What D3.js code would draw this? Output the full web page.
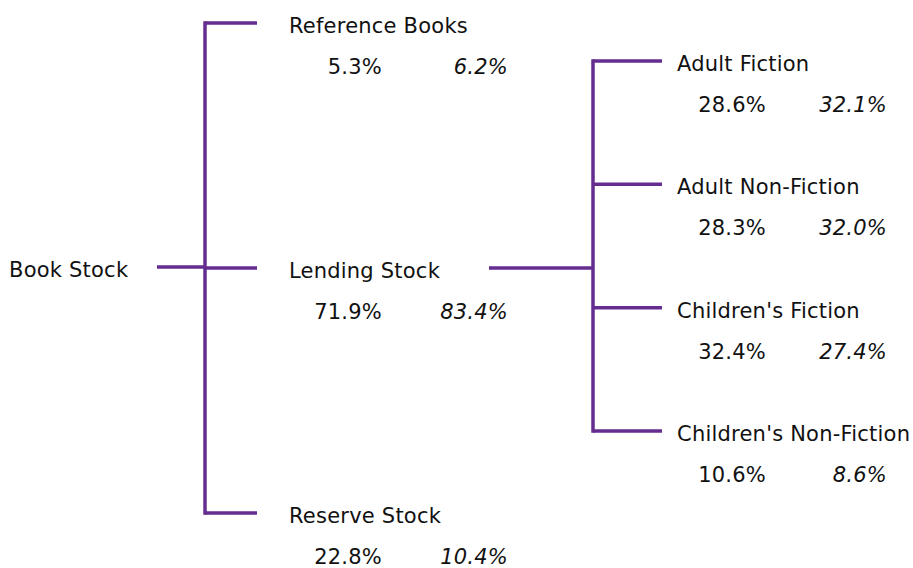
<!DOCTYPE html>
<html>
<head>
<meta charset="utf-8">
<script src="https://cdn.jsdelivr.net/npm/d3@7"></script>
<style>
  body { margin: 0; background: #fff; }
  text { font-family: "DejaVu Sans", Verdana, sans-serif; fill: #111; letter-spacing: 0.22px; }
</style>
</head>
<body>
<svg id="tree" width="913" height="568"></svg>
<script>
// tree nodes
var nodeIds   = ["Book Stock", "Reference Books", "Lending Stock", "Reserve Stock",
                 "Adult Fiction", "Adult Non-Fiction", "Children's Fiction", "Children's Non-Fiction"];
var parentIds = ["", "Book Stock", "Book Stock", "Book Stock",
                 "Lending Stock", "Lending Stock", "Lending Stock", "Lending Stock"];
// two percentage columns (second one in italics)
var pctA = [null, 5.3, 71.9, 22.8, 28.6, 28.3, 32.4, 10.6];
var pctB = [null, 6.2, 83.4, 10.4, 32.1, 32.0, 27.4, 8.6];

var purple = "#662d91";

var rows = nodeIds.map(function(id, i) {
    return {id: id, parent: parentIds[i] || null, a: pctA[i], b: pctB[i]};
});
var root = d3.stratify()
    .id(function(d) { return d.id; })
    .parentId(function(d) { return d.parent; })(rows);

// x columns per depth
var labelX = d3.scaleOrdinal().domain([0, 1, 2]).range([9, 289, 677]);
var outX   = d3.scaleOrdinal().domain([0, 1]).range([157, 489]);   // link leaving parent
var trunkX = d3.scaleOrdinal().domain([0, 1]).range([205, 593]);
var inX    = d3.scaleOrdinal().domain([1, 2]).range([257, 662]);   // branch end at child
var colA   = d3.scaleOrdinal().domain([1, 2]).range([382, 766]);   // right edge of first %
var colB   = d3.scaleOrdinal().domain([1, 2]).range([508, 887]);   // right edge of second %

// y per level
var yScales = {
    1: d3.scalePoint().domain(root.children.map(function(d) { return d.id; })).range([23, 513]),
    2: d3.scalePoint().domain(root.children[1].children.map(function(d) { return d.id; })).range([61, 431])
};
root.each(function(d) {
    d.y = d.depth === 0 ? 267 : yScales[d.depth](d.id);
});

var svg = d3.select("#tree");
var gLinks = svg.append("g")
    .attr("fill", "none")
    .attr("stroke", purple)
    .attr("stroke-width", 3.5);

root.each(function(p) {
    if (!p.children) return;
    var ys = p.children.map(function(c) { return c.y; });
    var tx = trunkX(p.depth);
    // from parent to trunk
    gLinks.append("line")
        .attr("x1", outX(p.depth)).attr("x2", tx)
        .attr("y1", p.y).attr("y2", p.y);
    // trunk
    gLinks.append("line")
        .attr("x1", tx).attr("x2", tx)
        .attr("y1", d3.min(ys) - 1.75).attr("y2", d3.max(ys) + 1.75);
    // branches
    gLinks.selectAll(null)
        .data(p.children)
        .enter().append("line")
        .attr("x1", tx)
        .attr("x2", function(c) { return inX(c.depth); })
        .attr("y1", function(c) { return c.y; })
        .attr("y2", function(c) { return c.y; });
});

var nodes = svg.append("g").selectAll("g")
    .data(root.descendants())
    .enter().append("g");

nodes.append("text")
    .attr("x", function(d) { return labelX(d.depth); })
    .attr("y", function(d) { return d.y + 10; })
    .style("font-size", "21px")
    .text(function(d) { return d.id; });

nodes.filter(function(d) { return d.depth > 0; })
    .append("text")
    .attr("x", function(d) { return colA(d.depth); })
    .attr("y", function(d) { return d.y + 51; })
    .attr("text-anchor", "end")
    .style("font-size", "21px")
    .text(function(d) { return d.data.a.toFixed(1) + "%"; });

nodes.filter(function(d) { return d.depth > 0; })
    .append("text")
    .attr("x", function(d) { return colB(d.depth); })
    .attr("y", function(d) { return d.y + 51; })
    .attr("text-anchor", "end")
    .style("font-size", "21px")
    .style("font-style", "italic")
    .text(function(d) { return d.data.b.toFixed(1) + "%"; });
</script>
</body>
</html>
